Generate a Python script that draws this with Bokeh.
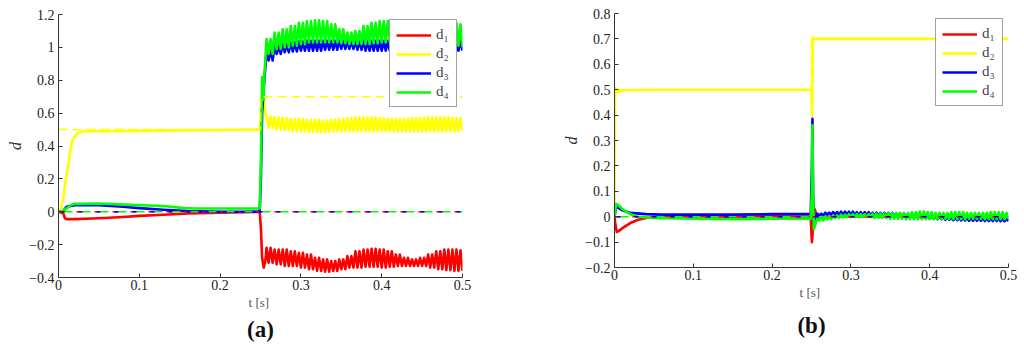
from bokeh.plotting import figure
from bokeh.models import (Range1d, FixedTicker, CustomJSTickFormatter, Legend,
                          LegendItem, Title)
from bokeh.embed import file_html
from bokeh.resources import INLINE
from jinja2 import Template

# ---------------- data ----------------
# oscillation envelopes after the step, at t = 0.26, 0.27, ..., 0.50
env_t = [0.26, 0.27, 0.28, 0.29, 0.30, 0.31, 0.32, 0.33, 0.34, 0.35, 0.36, 0.37, 0.38,
         0.39, 0.40, 0.41, 0.42, 0.43, 0.44, 0.45, 0.46, 0.47, 0.48, 0.49, 0.50]

# panel (a)
a_d1_t = [0, 0.003, 0.006, 0.008, 0.01, 0.02, 0.05, 0.08, 0.1, 0.13, 0.16, 0.2, 0.23, 0.249,
          0.2505, 0.252, 0.254, 0.256]
a_d1_v = [0, -0.005, -0.01, -0.04, -0.045, -0.045, -0.04, -0.032, -0.025, -0.018, -0.011,
          -0.006, -0.003, 0.0, -0.1, -0.28, -0.34, -0.30]
a_d1_up = [-0.22, -0.23, -0.23, -0.24, -0.25, -0.26, -0.28, -0.29, -0.30, -0.29, -0.27, -0.24,
           -0.23, -0.225, -0.23, -0.24, -0.26, -0.28, -0.29, -0.28, -0.26, -0.24, -0.23, -0.23, -0.235]
a_d1_lo = [-0.31, -0.32, -0.33, -0.33, -0.34, -0.35, -0.36, -0.365, -0.36, -0.35, -0.34, -0.34,
           -0.335, -0.335, -0.34, -0.335, -0.33, -0.33, -0.33, -0.33, -0.34, -0.35, -0.355, -0.36, -0.36]

a_d2_t = [0, 0.003, 0.006, 0.009, 0.012, 0.015, 0.017, 0.02, 0.025, 0.03, 0.06, 0.1, 0.15, 0.2,
          0.249, 0.2505, 0.2525, 0.2545, 0.256]
a_d2_v = [0, 0.02, 0.08, 0.2, 0.28, 0.38, 0.43, 0.46, 0.48, 0.49, 0.49, 0.492, 0.495, 0.497,
          0.5, 0.6, 0.72, 0.68, 0.6]
a_d2_up = [0.58, 0.575, 0.57, 0.565, 0.565, 0.56, 0.56, 0.555, 0.56, 0.565, 0.57, 0.575, 0.575,
           0.575, 0.57, 0.565, 0.565, 0.565, 0.57, 0.57, 0.575, 0.575, 0.575, 0.57, 0.57]
a_d2_lo = [0.51, 0.50, 0.495, 0.49, 0.49, 0.485, 0.485, 0.485, 0.49, 0.49, 0.49, 0.49, 0.49,
           0.49, 0.49, 0.49, 0.49, 0.49, 0.49, 0.49, 0.49, 0.49, 0.49, 0.49, 0.49]

a_d3_t = [0, 0.006, 0.01, 0.02, 0.05, 0.08, 0.1, 0.13, 0.16, 0.2, 0.249, 0.2505, 0.252, 0.254, 0.256]
a_d3_v = [0, 0.005, 0.03, 0.04, 0.04, 0.03, 0.022, 0.012, 0.004, 0.0, 0.0, 0.2, 0.6, 0.75, 0.88]
a_d3_up = [0.99, 1.01, 1.02, 1.03, 1.035, 1.04, 1.04, 1.04, 1.04, 1.04, 1.04, 1.04, 1.04,
           1.04, 1.04, 1.04, 1.04, 1.04, 1.04, 1.04, 1.04, 1.04, 1.04, 1.04, 1.04]
a_d3_lo = [0.92, 0.96, 0.97, 0.975, 0.98, 0.98, 0.98, 0.985, 0.985, 0.99, 0.99, 0.985, 0.98,
           0.98, 0.98, 0.98, 0.98, 0.98, 0.98, 0.98, 0.98, 0.98, 0.98, 0.98, 0.98]

a_d4_t = [0, 0.005, 0.01, 0.015, 0.02, 0.05, 0.09, 0.13, 0.155, 0.17, 0.2, 0.249, 0.2505,
          0.252, 0.2535, 0.255, 0.256]
a_d4_v = [0, 0.005, 0.02, 0.04, 0.048, 0.05, 0.042, 0.035, 0.022, 0.02, 0.02, 0.02, 0.3,
          0.82, 0.68, 0.85, 0.92]
a_d4_up = [1.05, 1.09, 1.11, 1.13, 1.15, 1.16, 1.165, 1.16, 1.14, 1.11, 1.09, 1.10, 1.13,
           1.15, 1.16, 1.16, 1.15, 1.14, 1.13, 1.13, 1.14, 1.15, 1.15, 1.15, 1.14]
a_d4_lo = [0.96, 0.99, 1.0, 1.01, 1.02, 1.03, 1.03, 1.03, 1.03, 1.025, 1.02, 1.02, 1.02,
           1.025, 1.03, 1.03, 1.03, 1.03, 1.03, 1.03, 1.02, 1.02, 1.01, 1.01, 1.0]

# panel (b)
b_d1_t = [0, 0.001, 0.003, 0.006, 0.01, 0.02, 0.03, 0.04, 0.06, 0.1, 0.15, 0.2, 0.249, 0.2505,
          0.2515, 0.2525, 0.254, 0.256, 0.26, 0.27, 0.3, 0.35, 0.4, 0.45, 0.5]
b_d1_v = [0, -0.03, -0.06, -0.055, -0.045, -0.025, -0.012, -0.005, 0.0, 0.002, 0.0, 0.002, 0.0,
          -0.1, -0.06, 0.035, 0.03, 0.01, 0.0, 0.0, 0.002, 0.0, 0.0, 0.0, 0.0]

b_d2_t = [0, 0.0008, 0.002, 0.004, 0.007, 0.012, 0.05, 0.1, 0.15, 0.2, 0.25, 0.2505, 0.251,
          0.2515, 0.252, 0.254, 0.3, 0.35, 0.4, 0.45, 0.5]
b_d2_v = [0, 0.5, 0.505, 0.49, 0.495, 0.498, 0.5, 0.5, 0.5, 0.5, 0.5, 0.4, 0.45, 0.7, 0.705,
          0.7, 0.7, 0.7, 0.7, 0.7, 0.7]

b_d3_t = [0, 0.002, 0.005, 0.01, 0.02, 0.04, 0.06, 0.1, 0.15, 0.2, 0.249, 0.2505, 0.2512,
          0.252, 0.253, 0.255, 0.256]
b_d3_v = [0, 0.04, 0.035, 0.025, 0.015, 0.01, 0.008, 0.008, 0.008, 0.01, 0.01, 0.2, 0.385,
          0.1, -0.03, -0.01, 0.005]
b_d3_up = [0.012, 0.016, 0.018, 0.02, 0.02, 0.018, 0.018, 0.016, 0.015, 0.015, 0.012, 0.01,
           0.008, 0.005, 0.004, 0.002, 0.0, -0.002, -0.003, -0.004, -0.004, -0.005, -0.005,
           -0.006, -0.006]
b_d3_lo = [0.005, 0.008, 0.008, 0.008, 0.006, 0.005, 0.005, 0.004, 0.003, 0.002, 0.0, -0.002,
           -0.004, -0.006, -0.008, -0.01, -0.012, -0.014, -0.015, -0.016, -0.016, -0.017,
           -0.017, -0.018, -0.018]

b_d4_t = [0, 0.002, 0.005, 0.01, 0.02, 0.03, 0.05, 0.1, 0.15, 0.2, 0.249, 0.2505, 0.2512,
          0.252, 0.253, 0.255, 0.256]
b_d4_v = [0, 0.05, 0.045, 0.03, 0.01, 0.0, -0.005, -0.008, -0.01, -0.008, -0.008, 0.1, 0.36,
          0.1, -0.05, -0.03, -0.02]
b_d4_up = [-0.005, 0.0, 0.005, 0.008, 0.01, 0.01, 0.01, 0.012, 0.012, 0.015, 0.015, 0.015,
           0.018, 0.02, 0.018, 0.015, 0.015, 0.018, 0.018, 0.015, 0.015, 0.015, 0.018, 0.018, 0.015]
b_d4_lo = [-0.015, -0.01, -0.005, -0.002, -0.002, 0.0, -0.002, -0.005, -0.005, -0.008, -0.008,
           -0.01, -0.01, -0.01, -0.01, -0.01, -0.008, -0.01, -0.01, -0.008, -0.008, -0.01,
           -0.01, -0.01, -0.008]

# references
ref_t = [0, 0.25, 0.25, 0.5]
ref_d2 = [0.5, 0.5, 0.7, 0.7]
ref_zero = [0, 0, 0, 0]

x_ticks = [0, 0.1, 0.2, 0.3, 0.4, 0.5]
a_y_ticks = [-0.4, -0.2, 0, 0.2, 0.4, 0.6, 0.8, 1.0, 1.2]
b_y_ticks = [-0.2, -0.1, 0, 0.1, 0.2, 0.3, 0.4, 0.5, 0.6, 0.7, 0.8]
labels = ["d\u2081", "d\u2082", "d\u2083", "d\u2084"]
colors = ["#ff0000", "#ffff00", "#0000ff", "#00ff00"]


# ---------------- helpers ----------------
def with_osc(t, v, up=None, lo=None):
    """Append the oscillation (one peak and one trough every 5 ms) drawn from read envelopes."""
    ts, vs = list(t), list(v)
    if up is not None:
        for k in range(49):
            tp = 0.2575 + k * 0.005
            ts.append(tp)
            vs.append(up[k // 2])
            ts.append(tp + 0.0025)
            vs.append(lo[k // 2])
    return ts, vs


SERIF = "Liberation Serif"
tick_fmt = CustomJSTickFormatter(code="""
    if (Math.abs(tick) < 1e-9) return '0';
    return (+tick.toFixed(2)).toString().replace('-', '\u2212');
""")


def make_fig(name, width, height, ymin, ymax, yticks, mbl, mbr, mbt, mbb, tag, standoff, offset):
    p = figure(width=width, height=height, output_backend="svg", toolbar_location=None,
               x_range=Range1d(0, 0.5), y_range=Range1d(ymin, ymax),
               min_border_left=mbl, min_border_right=mbr, min_border_top=mbt,
               min_border_bottom=mbb, title=None, name=name)
    p.outline_line_color = None
    p.grid.visible = False
    for ax in (p.xaxis[0], p.yaxis[0]):
        ax.axis_line_color = "#333333"
        ax.major_tick_line_color = "#333333"
        ax.major_tick_in = 4
        ax.major_tick_out = 0
        ax.minor_tick_in = 0
        ax.minor_tick_out = 0
        ax.major_label_text_font = SERIF
        ax.major_label_text_font_size = "14px"
        ax.major_label_text_color = "#222222"
        ax.axis_label_standoff = 2
        ax.formatter = tick_fmt
    p.xaxis.major_label_standoff = 2
    p.yaxis.major_label_standoff = 4
    p.xaxis.ticker = FixedTicker(ticks=x_ticks)
    p.yaxis.ticker = FixedTicker(ticks=yticks)
    p.xaxis.axis_label = "t  [s]"
    p.xaxis.axis_label_text_font = SERIF
    p.xaxis.axis_label_text_font_style = "normal"
    p.xaxis.axis_label_text_font_size = "13px"
    p.xaxis.axis_label_text_color = "#555555"
    p.yaxis.axis_label = "d"
    p.yaxis.axis_label_text_font = SERIF
    p.yaxis.axis_label_text_font_style = "italic"
    p.yaxis.axis_label_text_font_size = "16px"
    p.yaxis.axis_label_text_color = "#333333"
    p.add_layout(Title(text=tag, align="center", offset=offset, standoff=standoff,
                       text_font=SERIF, text_font_style="bold", text_font_size="23px",
                       text_color="#111111"), "below")
    return p


def add_legend(p, renderers):
    items = [LegendItem(label=lab, renderers=[r]) for lab, r in zip(labels, renderers)]
    leg = Legend(items=items, location="top_right", label_text_font=SERIF,
                 label_text_font_size="15px", glyph_width=35, glyph_height=16,
                 label_height=16, label_width=14, spacing=2, padding=6, margin=5,
                 label_standoff=5, border_line_color="#444444", border_line_width=1,
                 background_fill_alpha=1.0)
    p.add_layout(leg, "center")


def draw(p, series):
    rs = []
    for (ts, vs), c in zip(series, colors):
        rs.append(p.line(ts, vs, line_color=c, line_width=2.6, line_join="round"))
    p.line(ref_t, ref_d2, line_color=colors[1], line_width=1.6, line_dash="9 5")
    p.line(ref_t, ref_zero, line_color=colors[0], line_width=1.4, line_dash="6 12")
    p.line(ref_t, ref_zero, line_color=colors[3], line_width=1.4, line_dash="8 10",
           line_dash_offset=-6)
    p.line(ref_t, ref_zero, line_color=colors[2], line_width=1.4, line_dash="4 14",
           line_dash_offset=-2)
    return rs


# ---------------- panel (a) ----------------
pa = make_fig("pa", 510, 348, -0.4, 1.2, a_y_ticks, 58, 48, 14, 71, "(a)", 4, -8)
ra = draw(pa, [with_osc(a_d1_t, a_d1_v, a_d1_up, a_d1_lo),
               with_osc(a_d2_t, a_d2_v, a_d2_up, a_d2_lo),
               with_osc(a_d3_t, a_d3_v, a_d3_up, a_d3_lo),
               with_osc(a_d4_t, a_d4_v, a_d4_up, a_d4_lo)])
add_legend(pa, ra)

# ---------------- panel (b) ----------------
pb = make_fig("pb", 508, 350, -0.2, 0.8, b_y_ticks, 104, 10, 13, 83, "(b)", 16, -11)
rb = draw(pb, [with_osc(b_d1_t, b_d1_v),
               with_osc(b_d2_t, b_d2_v),
               with_osc(b_d3_t, b_d3_v, b_d3_up, b_d3_lo),
               with_osc(b_d4_t, b_d4_v, b_d4_up, b_d4_lo)])
add_legend(pb, rb)

# two independent roots side by side (so their frames are not forced to align)
page = Template("""{% from macros import embed %}
<!DOCTYPE html>
<html lang="en">
<head>
<meta charset="utf-8">
<title>d</title>
<style>html, body { box-sizing: border-box; display: flow-root; height: 100%; margin: 0; padding: 0; }</style>
{{ bokeh_css if bokeh_css }}
{{ bokeh_js if bokeh_js }}
</head>
<body>
<div style="display: flex; flex-direction: row; align-items: flex-start;">
{{ embed(roots.pa) }}
{{ embed(roots.pb) }}
</div>
{{ plot_script }}
</body>
</html>
""")

open("out.html", "w").write(file_html([pa, pb], INLINE, template=page))
